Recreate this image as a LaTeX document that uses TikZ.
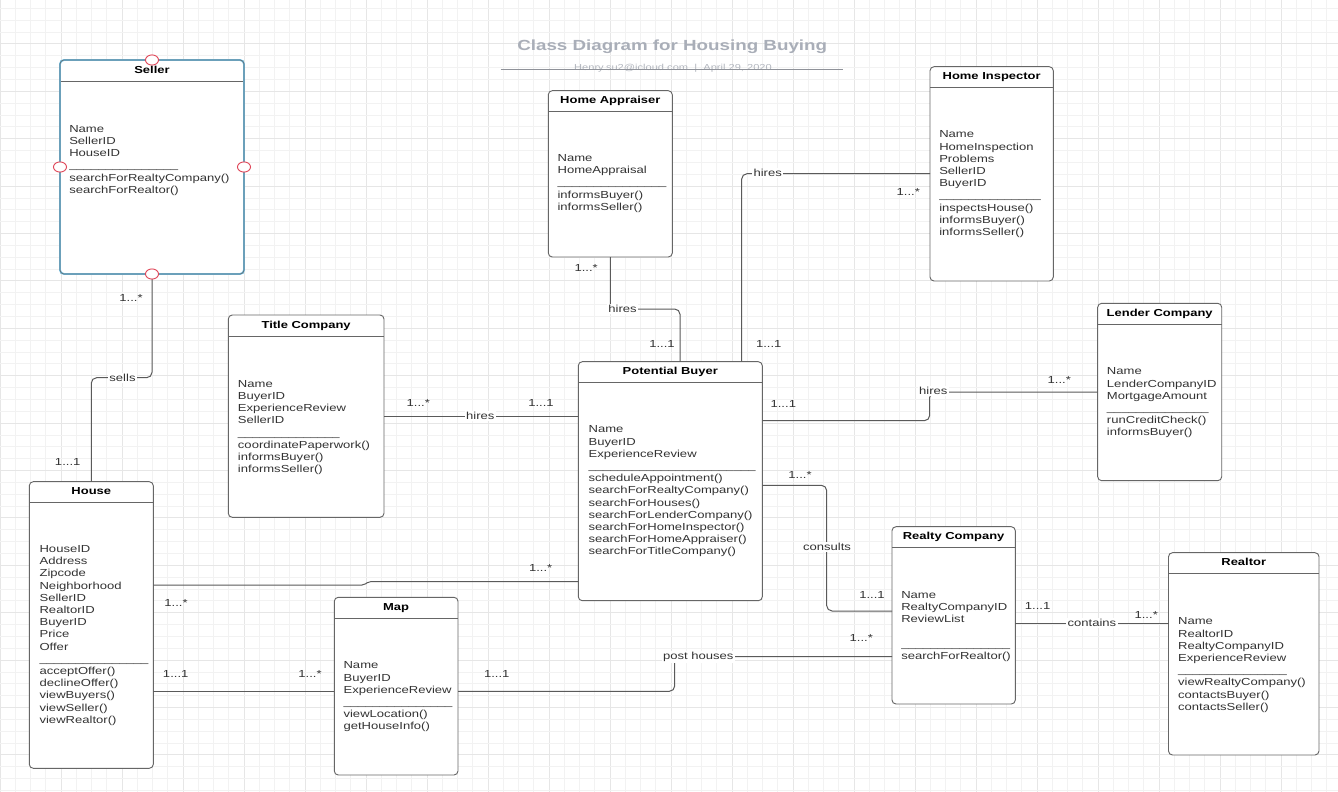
\documentclass[tikz,border=0pt]{standalone}
\usepackage{fontspec}
\setmainfont{Liberation Sans}[FakeStretch=1.28]
\usetikzlibrary{calc}
\definecolor{edgegray}{HTML}{666666}
\definecolor{linegray}{HTML}{5A5A5A}
\definecolor{txtgray}{HTML}{333333}
\definecolor{sellerblue}{HTML}{6EC1E8}
\definecolor{pinred}{HTML}{E0485A}
\definecolor{headgray}{HTML}{A9AEB8}
\definecolor{subgray}{HTML}{B3B7BF}
\definecolor{gridminor}{HTML}{F2F2F2}
\definecolor{gridmajor}{HTML}{E6E6E6}
\newcount\usccnt
\newcommand\usc[1]{\usccnt=0\relax\loop\ifnum\usccnt<#1\relax\_\advance\usccnt by 1\relax\repeat}
\tikzset{
  clsbox/.style={draw=edgegray, fill=white, line width=0.7pt, rounded corners=3pt, inner sep=0pt, outer sep=0pt},
  clsline/.style={draw=edgegray, line width=0.7pt},
  clstitle/.style={font=\fontsize{7.6}{9}\selectfont\bfseries, text=black, inner sep=0pt, anchor=base},
  clstext/.style={font=\fontsize{7.65}{9.15}\selectfont, text=txtgray, align=left, inner sep=0pt, anchor=north west},
  conn/.style={draw=linegray, line width=0.75pt, rounded corners=4pt},
  lbl/.style={font=\fontsize{7.65}{9}\selectfont, text=txtgray, fill=white, inner sep=1pt},
  mult/.style={font=\fontsize{7.65}{9}\selectfont, text=txtgray, inner sep=0pt},
}
% name, x, y, w, h, title, textx, texty, text
\newcommand\umlclass[9]{%
  \node[clsbox, anchor=north west, minimum width=#4*0.75pt, minimum height=#5*0.75pt] (#1) at (#2,#3) {};
  \draw[clsline] ($(#1.north west)+(0,21)$) -- ($(#1.north east)+(0,21)$);
  \node[clstitle] (#1-title) at ($(#1.north)+(0,13.1)$) {#6};
  \node[clstext] (#1-body) at (#7,#8) {#9};
}
\begin{document}
\begin{tikzpicture}[x=0.75pt, y=-0.75pt]
\useasboundingbox (0,0) rectangle (1338,792);
\fill[white] (0,0) rectangle (1338,792);
% grid
\foreach \i in {0,...,88} {
  \pgfmathsetmacro\xx{15.25*\i}
  \pgfmathtruncatemacro\mm{mod(\i,4)}
  \ifnum\mm=0 \draw[gridmajor, line width=0.6pt] (\xx,0) -- (\xx,792);
  \else \draw[gridminor, line width=0.6pt] (\xx,0) -- (\xx,792); \fi
}
\foreach \i in {0,...,66} {
  \pgfmathsetmacro\yy{8.3+11.85*\i}
  \pgfmathtruncatemacro\mm{mod(\i,4)}
  \ifnum\mm=3 \draw[gridmajor, line width=0.6pt] (0,\yy) -- (1338,\yy);
  \else \draw[gridminor, line width=0.6pt] (0,\yy) -- (1338,\yy); \fi
}
% heading
\node[font=\fontsize{11}{13}\selectfont\bfseries, text=headgray] (heading) at (672.2,47.2) {Class Diagram for Housing Buying};
\node[font=\fontsize{6.5}{8}\selectfont, text=subgray] (subheading) at (673,68) {Henry.su2@icloud.com \ | \ April 29, 2020};
\draw[subgray!80!black, line width=0.6pt] (500.7,69.5) -- (843.3,69.5);

% classes
\umlclass{seller}{60}{60}{184}{214}{Seller}{69}{125}{Name\\SellerID\\HouseID\\\usc{15}\\searchForRealtyCompany()\\searchForRealtor()}
\umlclass{appraiser}{548.3}{90.7}{124}{166.3}{Home Appraiser}{557.3}{154.3}{Name\\HomeAppraisal\\\usc{15}\\informsBuyer()\\informsSeller()}
\umlclass{inspector}{930}{66.7}{123.3}{214.3}{Home Inspector}{939}{130.7}{Name\\HomeInspection\\Problems\\SellerID\\BuyerID\\\usc{14}\\inspectsHouse()\\informsBuyer()\\informsSeller()}
\umlclass{titleco}{228.3}{315}{155.7}{202.3}{Title Company}{237.7}{380}{Name\\BuyerID\\ExperienceReview\\SellerID\\\usc{14}\\coordinatePaperwork()\\informsBuyer()\\informsSeller()}
\umlclass{pb}{578.3}{361.7}{184}{239}{Potential Buyer}{588.3}{425.7}{Name\\BuyerID\\ExperienceReview\\\usc{23}\\scheduleAppointment()\\searchForRealtyCompany()\\searchForHouses()\\searchForLenderCompany()\\searchForHomeInspector()\\searchForHomeAppraiser()\\searchForTitleCompany()}
\umlclass{lender}{1097.7}{303.3}{124}{177.4}{Lender Company}{1106.7}{367.7}{Name\\LenderCompanyID\\MortgageAmount\\\usc{14}\\runCreditCheck()\\informsBuyer()}
\umlclass{house}{29.3}{481.7}{124}{286.6}{House}{39.3}{545.3}{HouseID\\Address\\Zipcode\\Neighborhood\\SellerID\\RealtorID\\BuyerID\\Price\\Offer\\\usc{15}\\acceptOffer()\\declineOffer()\\viewBuyers()\\viewSeller()\\viewRealtor()}
\umlclass{map}{334.3}{597.3}{123.7}{177.7}{Map}{343.3}{661.7}{Name\\BuyerID\\ExperienceReview\\\usc{15}\\viewLocation()\\getHouseInfo()}
\umlclass{realty}{892}{526.7}{123.3}{177.3}{Realty Company}{901}{591}{Name\\RealtyCompanyID\\ReviewList\\\mbox{}\\\usc{15}\\searchForRealtor()}
\umlclass{realtor}{1168.5}{552.7}{150.5}{202.3}{Realtor}{1177.8}{617.7}{Name\\RealtorID\\RealtyCompanyID\\ExperienceReview\\\usc{15}\\viewRealtyCompany()\\contactsBuyer()\\contactsSeller()}

% seller highlight
\draw[sellerblue, line width=1.4pt, rounded corners=3pt] (seller.north west) rectangle (seller.south east);
\draw[edgegray, line width=0.45pt, rounded corners=3pt] (seller.north west) rectangle (seller.south east);

% connectors
\draw[conn] (seller.south) -- ++(0,103.7) -| (house.north);
\node[lbl] (l-sells) at (122.5,377.7) {sells};

\coordinate (c2) at (680,309);
\draw[conn] (appraiser.south) |- (c2) -- (c2 |- pb.north);
\node[lbl] (l-hires1) at (622.5,309) {hires};

\coordinate (c3) at (741.7,173.7);
\draw[conn] (c3 |- pb.north) -- (c3) -- (c3 -| inspector.west);
\node[lbl] (l-hires2) at (767.7,173) {hires};

\draw[conn] (titleco.east) -- (titleco.east -| pb.west);
\node[lbl] (l-hires3) at (480.3,416) {hires};

\coordinate (c5) at (929.7,420.7);
\draw[conn] (lender.west) -| (c5) -- (c5 -| pb.east);
\node[lbl] (l-hires4) at (933.3,390.7) {hires};

\coordinate (c6a) at (826.7,485.3);
\coordinate (c6b) at (826.7,611);
\draw[conn] (c6a -| pb.east) -- (c6a) -- (c6b) -- (c6b -| realty.west);
\node[lbl] (l-consults) at (827,547.3) {consults};

\coordinate (c7a) at (364,585);
\coordinate (c7b) at (368.5,581.7);
\draw[conn, rounded corners=1.5pt] (c7a -| house.east) -- (c7a) -- (c7b) -- (c7b -| pb.west);

\coordinate (c8) at (250,691.3);
\draw[conn] (c8 -| house.east) -- (c8 -| map.west);

\coordinate (c9a) at (674.7,691.3);
\coordinate (c9b) at (674.7,656.7);
\draw[conn] (c9a -| map.east) -- (c9a) -- (c9b) -- (c9b -| realty.west);
\node[lbl] (l-post) at (698.3,656.7) {post houses};

\coordinate (c10) at (1090,623.3);
\draw[conn] (c10 -| realty.east) -- (c10 -| realtor.west);
\node[lbl] (l-contains) at (1091.9,622.7) {contains};

% seller pins
\foreach \a in {north,south,east,west}
  \draw[pinred, fill=white, line width=0.7pt] (seller.\a) ellipse [x radius=4.9pt, y radius=3.8pt];

% multiplicities
\node[mult] (m1) at (131,297.7) {1...*};
\node[mult] (m2) at (67.7,462.3) {1...1};
\node[mult] (m3) at (586.2,267.7) {1...*};
\node[mult] (m4) at (662,344.3) {1...1};
\node[mult] (m5) at (908.3,192.3) {1...*};
\node[mult] (m6) at (768.7,344.3) {1...1};
\node[mult] (m7) at (418.3,403.3) {1...*};
\node[mult] (m8) at (541,403.3) {1...1};
\node[mult] (m9) at (1059.3,380) {1...*};
\node[mult] (m10) at (783.3,404) {1...1};
\node[mult] (m11) at (800,475) {1...*};
\node[mult] (m12) at (872,595) {1...1};
\node[mult] (m13) at (540.7,568.3) {1...*};
\node[mult] (m14) at (176,603.3) {1...*};
\node[mult] (m15) at (175.7,674.3) {1...1};
\node[mult] (m16) at (310,674.3) {1...*};
\node[mult] (m17) at (496.7,674.3) {1...1};
\node[mult] (m18) at (861.3,638.3) {1...*};
\node[mult] (m19) at (1037.6,606) {1...1};
\node[mult] (m20) at (1146.2,615) {1...*};
\end{tikzpicture}
\end{document}
